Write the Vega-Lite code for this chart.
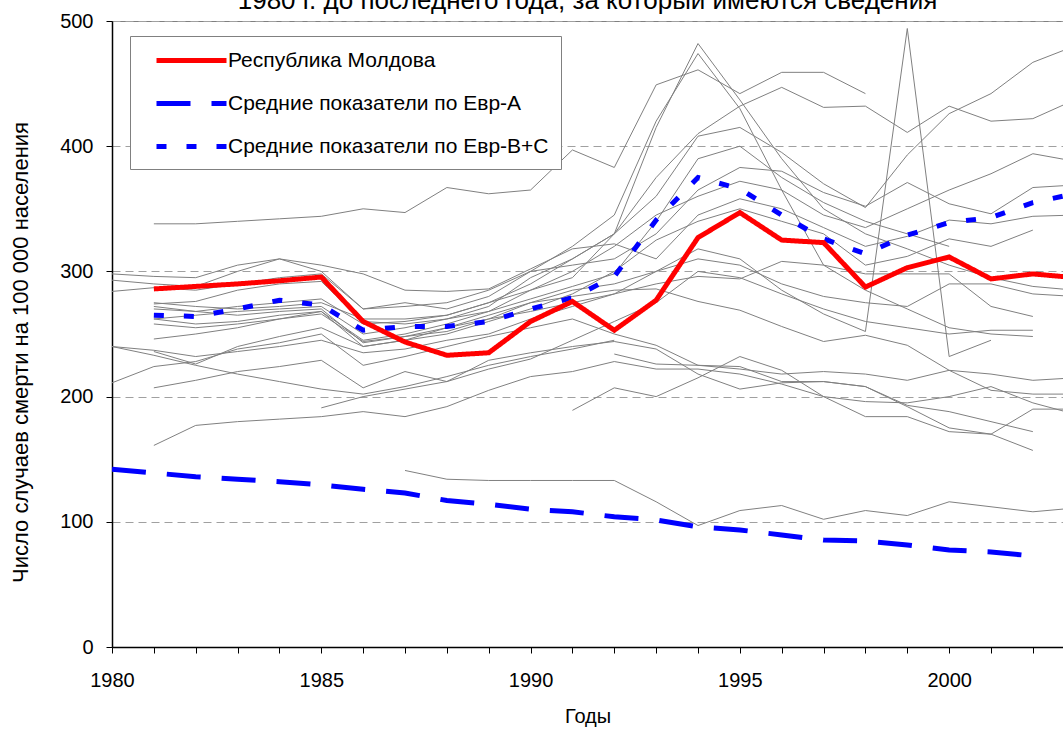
{
  "$schema": "https://vega.github.io/schema/vega-lite/v6.json",
  "width": 951,
  "height": 626,
  "autosize": {"type": "none"},
  "padding": {"left": 112, "top": 21, "right": 0, "bottom": 82},
  "title": {
    "text": "1980 г. до последнего года, за который имеются сведения",
    "anchor": "middle",
    "frame": "group",
    "fontSize": 26,
    "fontWeight": "normal",
    "baseline": "alphabetic",
    "offset": 0,
    "dy": 24,
    "color": "#000000"
  },
  "config": {
    "font": "Liberation Sans",
    "view": {"stroke": "#808080", "strokeWidth": 1}
  },
  "datasets": {
    "countries": [
      {"c":"g01","y":1981,"v":338},{"c":"g01","y":1982,"v":338},{"c":"g01","y":1983,"v":340},{"c":"g01","y":1984,"v":342},{"c":"g01","y":1985,"v":344},{"c":"g01","y":1986,"v":350},{"c":"g01","y":1987,"v":347},{"c":"g01","y":1988,"v":367},{"c":"g01","y":1989,"v":362},{"c":"g01","y":1990,"v":365},{"c":"g01","y":1991,"v":397},{"c":"g01","y":1992,"v":383},{"c":"g01","y":1993,"v":449},{"c":"g01","y":1994,"v":461},{"c":"g01","y":1995,"v":442},{"c":"g01","y":1996,"v":459},{"c":"g01","y":1997,"v":459},{"c":"g01","y":1998,"v":442},
      {"c":"g02","y":1980,"v":240},{"c":"g02","y":1981,"v":237},{"c":"g02","y":1982,"v":232},{"c":"g02","y":1983,"v":236},{"c":"g02","y":1984,"v":240},{"c":"g02","y":1985,"v":245},{"c":"g02","y":1986,"v":235},{"c":"g02","y":1987,"v":238},{"c":"g02","y":1988,"v":245},{"c":"g02","y":1989,"v":250},{"c":"g02","y":1990,"v":262},{"c":"g02","y":1991,"v":272},{"c":"g02","y":1992,"v":282},{"c":"g02","y":1993,"v":300},{"c":"g02","y":1994,"v":318},{"c":"g02","y":1995,"v":310},{"c":"g02","y":1996,"v":285},{"c":"g02","y":1997,"v":266},{"c":"g02","y":1998,"v":252},{"c":"g02","y":1999,"v":494},{"c":"g02","y":2000,"v":232},{"c":"g02","y":2001,"v":245},
      {"c":"g03","y":1981,"v":275},{"c":"g03","y":1982,"v":272},{"c":"g03","y":1983,"v":270},{"c":"g03","y":1984,"v":272},{"c":"g03","y":1985,"v":275},{"c":"g03","y":1986,"v":262},{"c":"g03","y":1987,"v":262},{"c":"g03","y":1988,"v":265},{"c":"g03","y":1989,"v":275},{"c":"g03","y":1990,"v":285},{"c":"g03","y":1991,"v":295},{"c":"g03","y":1992,"v":330},{"c":"g03","y":1993,"v":415},{"c":"g03","y":1994,"v":482},{"c":"g03","y":1995,"v":437},{"c":"g03","y":1996,"v":390},{"c":"g03","y":1997,"v":350},{"c":"g03","y":1998,"v":330},{"c":"g03","y":1999,"v":318},{"c":"g03","y":2000,"v":305},{"c":"g03","y":2001,"v":295},{"c":"g03","y":2002,"v":288},{"c":"g03","y":2003,"v":285},
      {"c":"g04","y":1980,"v":293},{"c":"g04","y":1981,"v":290},{"c":"g04","y":1982,"v":288},{"c":"g04","y":1983,"v":300},{"c":"g04","y":1984,"v":310},{"c":"g04","y":1985,"v":300},{"c":"g04","y":1986,"v":270},{"c":"g04","y":1987,"v":275},{"c":"g04","y":1988,"v":270},{"c":"g04","y":1989,"v":280},{"c":"g04","y":1990,"v":300},{"c":"g04","y":1991,"v":320},{"c":"g04","y":1992,"v":345},{"c":"g04","y":1993,"v":420},{"c":"g04","y":1994,"v":474},{"c":"g04","y":1995,"v":430},{"c":"g04","y":1996,"v":365},{"c":"g04","y":1997,"v":305},{"c":"g04","y":1998,"v":285},{"c":"g04","y":1999,"v":270},{"c":"g04","y":2000,"v":255},{"c":"g04","y":2001,"v":250},{"c":"g04","y":2002,"v":248},
      {"c":"g05","y":1981,"v":270},{"c":"g05","y":1982,"v":268},{"c":"g05","y":1983,"v":272},{"c":"g05","y":1984,"v":275},{"c":"g05","y":1985,"v":278},{"c":"g05","y":1986,"v":258},{"c":"g05","y":1987,"v":260},{"c":"g05","y":1988,"v":265},{"c":"g05","y":1989,"v":275},{"c":"g05","y":1990,"v":290},{"c":"g05","y":1991,"v":310},{"c":"g05","y":1992,"v":330},{"c":"g05","y":1993,"v":360},{"c":"g05","y":1994,"v":408},{"c":"g05","y":1995,"v":415},{"c":"g05","y":1996,"v":395},{"c":"g05","y":1997,"v":370},{"c":"g05","y":1998,"v":351},{"c":"g05","y":1999,"v":393},{"c":"g05","y":2000,"v":426},{"c":"g05","y":2001,"v":442},{"c":"g05","y":2002,"v":467},{"c":"g05","y":2003,"v":480},
      {"c":"g06","y":1981,"v":262},{"c":"g06","y":1982,"v":265},{"c":"g06","y":1983,"v":268},{"c":"g06","y":1984,"v":270},{"c":"g06","y":1985,"v":272},{"c":"g06","y":1986,"v":250},{"c":"g06","y":1987,"v":255},{"c":"g06","y":1988,"v":262},{"c":"g06","y":1989,"v":272},{"c":"g06","y":1990,"v":295},{"c":"g06","y":1991,"v":310},{"c":"g06","y":1992,"v":330},{"c":"g06","y":1993,"v":375},{"c":"g06","y":1994,"v":410},{"c":"g06","y":1995,"v":432},{"c":"g06","y":1996,"v":447},{"c":"g06","y":1997,"v":431},{"c":"g06","y":1998,"v":432},{"c":"g06","y":1999,"v":411},{"c":"g06","y":2000,"v":432},{"c":"g06","y":2001,"v":420},{"c":"g06","y":2002,"v":422},{"c":"g06","y":2003,"v":437},
      {"c":"g07","y":1981,"v":246},{"c":"g07","y":1982,"v":250},{"c":"g07","y":1983,"v":255},{"c":"g07","y":1984,"v":262},{"c":"g07","y":1985,"v":268},{"c":"g07","y":1986,"v":245},{"c":"g07","y":1987,"v":250},{"c":"g07","y":1988,"v":258},{"c":"g07","y":1989,"v":268},{"c":"g07","y":1990,"v":285},{"c":"g07","y":1991,"v":300},{"c":"g07","y":1992,"v":320},{"c":"g07","y":1993,"v":345},{"c":"g07","y":1994,"v":360},{"c":"g07","y":1995,"v":372},{"c":"g07","y":1996,"v":365},{"c":"g07","y":1997,"v":345},{"c":"g07","y":1998,"v":335},{"c":"g07","y":1999,"v":350},{"c":"g07","y":2000,"v":365},{"c":"g07","y":2001,"v":378},{"c":"g07","y":2002,"v":394},{"c":"g07","y":2003,"v":388},
      {"c":"g08","y":1981,"v":272},{"c":"g08","y":1982,"v":268},{"c":"g08","y":1983,"v":265},{"c":"g08","y":1984,"v":268},{"c":"g08","y":1985,"v":270},{"c":"g08","y":1986,"v":243},{"c":"g08","y":1987,"v":248},{"c":"g08","y":1988,"v":252},{"c":"g08","y":1989,"v":262},{"c":"g08","y":1990,"v":275},{"c":"g08","y":1991,"v":285},{"c":"g08","y":1992,"v":290},{"c":"g08","y":1993,"v":300},{"c":"g08","y":1994,"v":310},{"c":"g08","y":1995,"v":305},{"c":"g08","y":1996,"v":290},{"c":"g08","y":1997,"v":280},{"c":"g08","y":1998,"v":275},{"c":"g08","y":1999,"v":272},{"c":"g08","y":2000,"v":290},{"c":"g08","y":2001,"v":290},{"c":"g08","y":2002,"v":282},{"c":"g08","y":2003,"v":280},
      {"c":"g09","y":1980,"v":284},{"c":"g09","y":1981,"v":287},{"c":"g09","y":1982,"v":285},{"c":"g09","y":1983,"v":290},{"c":"g09","y":1984,"v":295},{"c":"g09","y":1985,"v":298},{"c":"g09","y":1986,"v":270},{"c":"g09","y":1987,"v":272},{"c":"g09","y":1988,"v":275},{"c":"g09","y":1989,"v":285},{"c":"g09","y":1990,"v":300},{"c":"g09","y":1991,"v":305},{"c":"g09","y":1992,"v":310},{"c":"g09","y":1993,"v":330},{"c":"g09","y":1994,"v":365},{"c":"g09","y":1995,"v":383},{"c":"g09","y":1996,"v":380},{"c":"g09","y":1997,"v":363},{"c":"g09","y":1998,"v":352},{"c":"g09","y":1999,"v":371},{"c":"g09","y":2000,"v":354},{"c":"g09","y":2001,"v":346},{"c":"g09","y":2002,"v":367},{"c":"g09","y":2003,"v":369},
      {"c":"g10","y":1980,"v":298},{"c":"g10","y":1981,"v":296},{"c":"g10","y":1982,"v":295},{"c":"g10","y":1983,"v":305},{"c":"g10","y":1984,"v":310},{"c":"g10","y":1985,"v":305},{"c":"g10","y":1986,"v":298},{"c":"g10","y":1987,"v":285},{"c":"g10","y":1988,"v":284},{"c":"g10","y":1989,"v":286},{"c":"g10","y":1990,"v":302},{"c":"g10","y":1991,"v":318},{"c":"g10","y":1992,"v":322},{"c":"g10","y":1993,"v":310},{"c":"g10","y":1994,"v":345},{"c":"g10","y":1995,"v":358},{"c":"g10","y":1996,"v":350},{"c":"g10","y":1997,"v":335},{"c":"g10","y":1998,"v":320},{"c":"g10","y":1999,"v":328},{"c":"g10","y":2000,"v":341},{"c":"g10","y":2001,"v":338},{"c":"g10","y":2002,"v":344},{"c":"g10","y":2003,"v":345},
      {"c":"g11","y":1981,"v":262},{"c":"g11","y":1982,"v":258},{"c":"g11","y":1983,"v":260},{"c":"g11","y":1984,"v":265},{"c":"g11","y":1985,"v":268},{"c":"g11","y":1986,"v":240},{"c":"g11","y":1987,"v":245},{"c":"g11","y":1988,"v":250},{"c":"g11","y":1989,"v":260},{"c":"g11","y":1990,"v":270},{"c":"g11","y":1991,"v":282},{"c":"g11","y":1992,"v":300},{"c":"g11","y":1993,"v":325},{"c":"g11","y":1994,"v":340},{"c":"g11","y":1995,"v":350},{"c":"g11","y":1996,"v":340},{"c":"g11","y":1997,"v":330},{"c":"g11","y":1998,"v":305},{"c":"g11","y":1999,"v":312},{"c":"g11","y":2000,"v":326},{"c":"g11","y":2001,"v":320},{"c":"g11","y":2002,"v":333},
      {"c":"g12","y":1981,"v":258},{"c":"g12","y":1982,"v":255},{"c":"g12","y":1983,"v":258},{"c":"g12","y":1984,"v":262},{"c":"g12","y":1985,"v":266},{"c":"g12","y":1986,"v":244},{"c":"g12","y":1987,"v":248},{"c":"g12","y":1988,"v":255},{"c":"g12","y":1989,"v":262},{"c":"g12","y":1990,"v":268},{"c":"g12","y":1991,"v":275},{"c":"g12","y":1992,"v":282},{"c":"g12","y":1993,"v":290},{"c":"g12","y":1994,"v":296},{"c":"g12","y":1995,"v":294},{"c":"g12","y":1996,"v":308},{"c":"g12","y":1997,"v":305},{"c":"g12","y":1998,"v":298},{"c":"g12","y":1999,"v":298},{"c":"g12","y":2000,"v":298},{"c":"g12","y":2001,"v":272},{"c":"g12","y":2002,"v":264},
      {"c":"g13","y":1981,"v":236},{"c":"g13","y":1982,"v":226},{"c":"g13","y":1983,"v":240},{"c":"g13","y":1984,"v":248},{"c":"g13","y":1985,"v":255},{"c":"g13","y":1986,"v":240},{"c":"g13","y":1987,"v":245},{"c":"g13","y":1988,"v":255},{"c":"g13","y":1989,"v":265},{"c":"g13","y":1990,"v":275},{"c":"g13","y":1991,"v":280},{"c":"g13","y":1992,"v":285},{"c":"g13","y":1993,"v":286},{"c":"g13","y":1994,"v":276},{"c":"g13","y":1995,"v":269},{"c":"g13","y":1996,"v":256},{"c":"g13","y":1997,"v":244},{"c":"g13","y":1998,"v":249},{"c":"g13","y":1999,"v":241},{"c":"g13","y":2000,"v":221},{"c":"g13","y":2001,"v":205},{"c":"g13","y":2002,"v":202},{"c":"g13","y":2003,"v":202},
      {"c":"g14","y":1980,"v":211},{"c":"g14","y":1981,"v":224},{"c":"g14","y":1982,"v":228},{"c":"g14","y":1983,"v":238},{"c":"g14","y":1984,"v":243},{"c":"g14","y":1985,"v":250},{"c":"g14","y":1986,"v":225},{"c":"g14","y":1987,"v":232},{"c":"g14","y":1988,"v":240},{"c":"g14","y":1989,"v":248},{"c":"g14","y":1990,"v":255},{"c":"g14","y":1991,"v":262},{"c":"g14","y":1992,"v":250},{"c":"g14","y":1993,"v":241},{"c":"g14","y":1994,"v":225},{"c":"g14","y":1995,"v":224},{"c":"g14","y":1996,"v":212},{"c":"g14","y":1997,"v":212},{"c":"g14","y":1998,"v":208},{"c":"g14","y":1999,"v":192},{"c":"g14","y":2000,"v":175},{"c":"g14","y":2001,"v":170},{"c":"g14","y":2002,"v":190},{"c":"g14","y":2003,"v":190},
      {"c":"g15","y":1991,"v":189},{"c":"g15","y":1992,"v":207},{"c":"g15","y":1993,"v":200},{"c":"g15","y":1994,"v":215},{"c":"g15","y":1995,"v":232},{"c":"g15","y":1996,"v":221},{"c":"g15","y":1997,"v":200},{"c":"g15","y":1998,"v":184},{"c":"g15","y":1999,"v":184},{"c":"g15","y":2000,"v":172},{"c":"g15","y":2001,"v":170},{"c":"g15","y":2002,"v":157},
      {"c":"g16","y":1992,"v":234},{"c":"g16","y":1993,"v":226},{"c":"g16","y":1994,"v":225},{"c":"g16","y":1995,"v":222},{"c":"g16","y":1996,"v":218},{"c":"g16","y":1997,"v":220},{"c":"g16","y":1998,"v":218},{"c":"g16","y":1999,"v":213},{"c":"g16","y":2000,"v":221},{"c":"g16","y":2001,"v":218},{"c":"g16","y":2002,"v":213},{"c":"g16","y":2003,"v":215},
      {"c":"g17","y":1981,"v":207},{"c":"g17","y":1982,"v":213},{"c":"g17","y":1983,"v":220},{"c":"g17","y":1984,"v":224},{"c":"g17","y":1985,"v":229},{"c":"g17","y":1986,"v":207},{"c":"g17","y":1987,"v":220},{"c":"g17","y":1988,"v":212},{"c":"g17","y":1989,"v":229},{"c":"g17","y":1990,"v":235},{"c":"g17","y":1991,"v":240},{"c":"g17","y":1992,"v":244},{"c":"g17","y":1993,"v":238},{"c":"g17","y":1994,"v":218},{"c":"g17","y":1995,"v":206},{"c":"g17","y":1996,"v":211},{"c":"g17","y":1997,"v":212},{"c":"g17","y":1998,"v":208},{"c":"g17","y":1999,"v":193},{"c":"g17","y":2000,"v":188},{"c":"g17","y":2001,"v":180},{"c":"g17","y":2002,"v":172},
      {"c":"g18","y":1980,"v":240},{"c":"g18","y":1981,"v":233},{"c":"g18","y":1982,"v":225},{"c":"g18","y":1983,"v":218},{"c":"g18","y":1984,"v":212},{"c":"g18","y":1985,"v":206},{"c":"g18","y":1986,"v":202},{"c":"g18","y":1987,"v":208},{"c":"g18","y":1988,"v":216},{"c":"g18","y":1989,"v":225},{"c":"g18","y":1990,"v":232},{"c":"g18","y":1991,"v":238},{"c":"g18","y":1992,"v":245},
      {"c":"g19","y":1985,"v":191},{"c":"g19","y":1986,"v":200},{"c":"g19","y":1987,"v":206},{"c":"g19","y":1988,"v":212},{"c":"g19","y":1989,"v":222},{"c":"g19","y":1990,"v":230},{"c":"g19","y":1991,"v":245},{"c":"g19","y":1992,"v":260},{"c":"g19","y":1993,"v":275},{"c":"g19","y":1994,"v":300},{"c":"g19","y":1995,"v":295},{"c":"g19","y":1996,"v":282},{"c":"g19","y":1997,"v":270},{"c":"g19","y":1998,"v":260},{"c":"g19","y":1999,"v":255},{"c":"g19","y":2000,"v":250},{"c":"g19","y":2001,"v":253},{"c":"g19","y":2002,"v":253},
      {"c":"g20","y":1987,"v":141},{"c":"g20","y":1988,"v":134},{"c":"g20","y":1989,"v":133},{"c":"g20","y":1990,"v":133},{"c":"g20","y":1991,"v":133},{"c":"g20","y":1992,"v":133},{"c":"g20","y":1993,"v":116},{"c":"g20","y":1994,"v":97},{"c":"g20","y":1995,"v":109},{"c":"g20","y":1996,"v":113},{"c":"g20","y":1997,"v":102},{"c":"g20","y":1998,"v":109},{"c":"g20","y":1999,"v":105},{"c":"g20","y":2000,"v":116},{"c":"g20","y":2001,"v":112},{"c":"g20","y":2002,"v":108},{"c":"g20","y":2003,"v":111},
      {"c":"g21","y":1981,"v":161},{"c":"g21","y":1982,"v":177},{"c":"g21","y":1983,"v":180},{"c":"g21","y":1984,"v":182},{"c":"g21","y":1985,"v":184},{"c":"g21","y":1986,"v":188},{"c":"g21","y":1987,"v":184},{"c":"g21","y":1988,"v":192},{"c":"g21","y":1989,"v":205},{"c":"g21","y":1990,"v":216},{"c":"g21","y":1991,"v":220},{"c":"g21","y":1992,"v":228},{"c":"g21","y":1993,"v":222},{"c":"g21","y":1994,"v":222},{"c":"g21","y":1995,"v":218},{"c":"g21","y":1996,"v":210},{"c":"g21","y":1997,"v":200},{"c":"g21","y":1998,"v":196},{"c":"g21","y":1999,"v":195},{"c":"g21","y":2000,"v":200},{"c":"g21","y":2001,"v":208},{"c":"g21","y":2002,"v":195},{"c":"g21","y":2003,"v":186},
      {"c":"g22","y":1981,"v":274},{"c":"g22","y":1982,"v":276},{"c":"g22","y":1983,"v":285},{"c":"g22","y":1984,"v":290},{"c":"g22","y":1985,"v":292},{"c":"g22","y":1986,"v":260},{"c":"g22","y":1987,"v":258},{"c":"g22","y":1988,"v":262},{"c":"g22","y":1989,"v":268},{"c":"g22","y":1990,"v":278},{"c":"g22","y":1991,"v":288},{"c":"g22","y":1992,"v":298},{"c":"g22","y":1993,"v":340},{"c":"g22","y":1994,"v":390},{"c":"g22","y":1995,"v":400},{"c":"g22","y":1996,"v":375},{"c":"g22","y":1997,"v":355},{"c":"g22","y":1998,"v":340},{"c":"g22","y":1999,"v":330},{"c":"g22","y":2000,"v":320}
    ],
    "main": [
      {"s":"Средние показатели по Евр-А","y":1980,"v":142},{"s":"Средние показатели по Евр-А","y":1981,"v":139},{"s":"Средние показатели по Евр-А","y":1982,"v":136},{"s":"Средние показатели по Евр-А","y":1983,"v":134},{"s":"Средние показатели по Евр-А","y":1984,"v":132},{"s":"Средние показатели по Евр-А","y":1985,"v":129.5},{"s":"Средние показатели по Евр-А","y":1986,"v":126},{"s":"Средние показатели по Евр-А","y":1987,"v":123},{"s":"Средние показатели по Евр-А","y":1988,"v":117},{"s":"Средние показатели по Евр-А","y":1989,"v":114},{"s":"Средние показатели по Евр-А","y":1990,"v":110},{"s":"Средние показатели по Евр-А","y":1991,"v":108},{"s":"Средние показатели по Евр-А","y":1992,"v":104},{"s":"Средние показатели по Евр-А","y":1993,"v":101.5},{"s":"Средние показатели по Евр-А","y":1994,"v":96},{"s":"Средние показатели по Евр-А","y":1995,"v":93.5},{"s":"Средние показатели по Евр-А","y":1996,"v":89.5},{"s":"Средние показатели по Евр-А","y":1997,"v":85.5},{"s":"Средние показатели по Евр-А","y":1998,"v":84.7},{"s":"Средние показатели по Евр-А","y":1999,"v":81.5},{"s":"Средние показатели по Евр-А","y":2000,"v":77.5},{"s":"Средние показатели по Евр-А","y":2001,"v":75.9},{"s":"Средние показатели по Евр-А","y":2002,"v":72.7},
      {"s":"Средние показатели по Евр-В+С","y":1981,"v":265},{"s":"Средние показатели по Евр-В+С","y":1982,"v":264},{"s":"Средние показатели по Евр-В+С","y":1983,"v":270},{"s":"Средние показатели по Евр-В+С","y":1984,"v":277},{"s":"Средние показатели по Евр-В+С","y":1985,"v":273},{"s":"Средние показатели по Евр-В+С","y":1986,"v":253},{"s":"Средние показатели по Евр-В+С","y":1987,"v":256},{"s":"Средние показатели по Евр-В+С","y":1988,"v":256},{"s":"Средние показатели по Евр-В+С","y":1989,"v":260},{"s":"Средние показатели по Евр-В+С","y":1990,"v":270},{"s":"Средние показатели по Евр-В+С","y":1991,"v":279},{"s":"Средние показатели по Евр-В+С","y":1992,"v":296},{"s":"Средние показатели по Евр-В+С","y":1993,"v":341},{"s":"Средние показатели по Евр-В+С","y":1994,"v":375},{"s":"Средние показатели по Евр-В+С","y":1995,"v":366},{"s":"Средние показатели по Евр-В+С","y":1996,"v":345},{"s":"Средние показатели по Евр-В+С","y":1997,"v":326},{"s":"Средние показатели по Евр-В+С","y":1998,"v":314},{"s":"Средние показатели по Евр-В+С","y":1999,"v":329},{"s":"Средние показатели по Евр-В+С","y":2000,"v":339},{"s":"Средние показатели по Евр-В+С","y":2001,"v":343},{"s":"Средние показатели по Евр-В+С","y":2002,"v":355},{"s":"Средние показатели по Евр-В+С","y":2003,"v":362},
      {"s":"Республика Молдова","y":1981,"v":286},{"s":"Республика Молдова","y":1982,"v":288},{"s":"Республика Молдова","y":1983,"v":290},{"s":"Республика Молдова","y":1984,"v":292.5},{"s":"Республика Молдова","y":1985,"v":295.5},{"s":"Республика Молдова","y":1986,"v":260},{"s":"Республика Молдова","y":1987,"v":243.6},{"s":"Республика Молдова","y":1988,"v":233},{"s":"Республика Молдова","y":1989,"v":235},{"s":"Республика Молдова","y":1990,"v":260},{"s":"Республика Молдова","y":1991,"v":276},{"s":"Республика Молдова","y":1992,"v":253},{"s":"Республика Молдова","y":1993,"v":277},{"s":"Республика Молдова","y":1994,"v":327},{"s":"Республика Молдова","y":1995,"v":347},{"s":"Республика Молдова","y":1996,"v":325},{"s":"Республика Молдова","y":1997,"v":323},{"s":"Республика Молдова","y":1998,"v":287.5},{"s":"Республика Молдова","y":1999,"v":303},{"s":"Республика Молдова","y":2000,"v":311.5},{"s":"Республика Молдова","y":2001,"v":294},{"s":"Республика Молдова","y":2002,"v":298},{"s":"Республика Молдова","y":2003,"v":295}
    ]
  },
  "encoding": {
    "x": {
      "field": "y",
      "type": "quantitative",
      "scale": {"domain": [1980, 2002.72], "nice": false, "zero": false},
      "axis": {
        "values": [1980,1981,1982,1983,1984,1985,1986,1987,1988,1989,1990,1991,1992,1993,1994,1995,1996,1997,1998,1999,2000,2001,2002],
        "format": "d",
        "labelExpr": "datum.value % 5 === 0 ? datum.label : ''",
        "labelOverlap": false,
        "labelFlush": false,
        "grid": false,
        "title": "Годы",
        "domainColor": "#000000",
        "domainWidth": 1.5,
        "tickColor": "#000000",
        "tickSize": 6,
        "labelFontSize": 20,
        "labelColor": "#000000",
        "labelPadding": 17,
        "titleFontSize": 20,
        "titleFontWeight": "normal",
        "titleColor": "#000000",
        "titlePadding": 16
      }
    },
    "y": {
      "field": "v",
      "type": "quantitative",
      "scale": {"domain": [0, 500], "nice": false},
      "axis": {
        "values": [0, 100, 200, 300, 400, 500],
        "grid": true,
        "gridDash": [8, 5],
        "gridColor": "#a0a0a0",
        "gridWidth": 1,
        "title": "Число случаев смерти на 100 000 населения",
        "domainColor": "#000000",
        "domainWidth": 1.5,
        "tickColor": "#000000",
        "tickSize": 6,
        "labelFontSize": 20,
        "labelColor": "#000000",
        "labelPadding": 13,
        "titleFontSize": 22,
        "titleFontWeight": "normal",
        "titleColor": "#000000",
        "titlePadding": 27,
        "titleY": 331
      }
    }
  },
  "layer": [
    {
      "data": {"name": "countries"},
      "mark": {"type": "line", "color": "#808080", "strokeWidth": 1, "clip": true},
      "encoding": {"detail": {"field": "c"}}
    },
    {
      "data": {"name": "main"},
      "mark": {"type": "line", "strokeWidth": 5, "clip": true},
      "encoding": {
        "color": {
          "field": "s",
          "type": "nominal",
          "scale": {
            "domain": ["Республика Молдова", "Средние показатели по Евр-А", "Средние показатели по Евр-В+С"],
            "range": ["#ff0000", "#0000ff", "#0000ff"]
          },
          "legend": {
            "title": null,
            "orient": "none",
            "legendX": 18,
            "legendY": 15,
            "symbolType": "M-1,0L6,0",
            "symbolSize": 400,
            "symbolStrokeWidth": 5,
            "labelFontSize": 21,
            "labelColor": "#000000",
            "labelOffset": 49,
            "labelLimit": 500,
            "padding": 12,
            "symbolOffset": 12,
            "rowPadding": 20,
            "strokeColor": "#808080",
            "fillColor": "#ffffff"
          }
        },
        "strokeDash": {
          "field": "s",
          "type": "nominal",
          "scale": {
            "domain": ["Республика Молдова", "Средние показатели по Евр-А", "Средние показатели по Евр-В+С"],
            "range": [[1, 0], [34, 21], [10, 20]]
          },
          "legend": {
            "title": null,
            "orient": "none",
            "legendX": 18,
            "legendY": 15,
            "symbolType": "M-1,0L6,0",
            "symbolSize": 400,
            "symbolStrokeWidth": 5,
            "labelFontSize": 21,
            "labelColor": "#000000",
            "labelOffset": 49,
            "labelLimit": 500,
            "padding": 12,
            "symbolOffset": 12,
            "rowPadding": 20,
            "strokeColor": "#808080",
            "fillColor": "#ffffff"
          }
        }
      }
    }
  ]
}
